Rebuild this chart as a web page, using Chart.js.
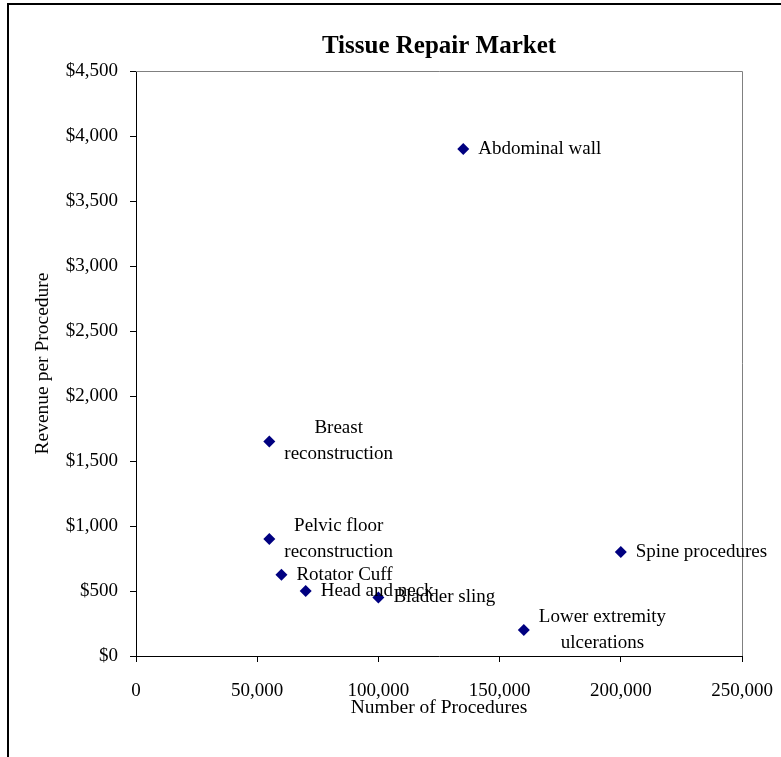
<!DOCTYPE html>
<html>
<head>
<meta charset="utf-8">
<script src="https://cdn.jsdelivr.net/npm/chart.js@4"></script>
<style>
  body { margin: 0; background: #fff; }
  canvas { display: block; }
</style>
</head>
<body>
<canvas id="chart" width="781" height="757"></canvas>
<script>
// data
const procedureNames = [
  "Abdominal wall",
  ["Breast", "reconstruction"],
  ["Pelvic floor", "reconstruction"],
  "Rotator Cuff",
  "Head and neck",
  "Bladder sling",
  ["Lower extremity", "ulcerations"],
  "Spine procedures"
];
const procedureCounts = [135000, 55000, 55000, 60000, 70000, 100000, 160000, 200000];
const revenuePerProcedure = [3900, 1650, 900, 625, 500, 450, 200, 800];

const xTicks = [0, 50000, 100000, 150000, 200000, 250000];
const yTicks = [0, 500, 1000, 1500, 2000, 2500, 3000, 3500, 4000, 4500];

const serif = "'Liberation Serif', 'Times New Roman', serif";

// outer frame + gray top/right border of plot area
const framePlugin = {
  id: 'frame',
  afterLayout(chart) {
    // centre the title over the plot area, like the original
    const t = chart.titleBlock;
    if (t) {
      t.left = chart.chartArea.left;
      t.right = chart.chartArea.right;
    }
  },
  beforeDraw(chart) {
    const ctx = chart.ctx;
    ctx.save();
    ctx.fillStyle = '#fff';
    ctx.fillRect(0, 0, chart.width, chart.height);
    ctx.strokeStyle = '#000';
    ctx.lineWidth = 2;
    ctx.beginPath();
    ctx.moveTo(8, chart.height);
    ctx.lineTo(8, 4);
    ctx.lineTo(chart.width, 4);
    ctx.stroke();
    ctx.restore();
  },
  beforeDatasetsDraw(chart) {
    const {ctx, chartArea: a} = chart;
    ctx.save();
    ctx.strokeStyle = '#808080';
    ctx.lineWidth = 1;
    ctx.beginPath();
    ctx.moveTo(a.left, a.top + 0.5);
    ctx.lineTo(a.right + 0.5, a.top + 0.5);
    ctx.lineTo(a.right + 0.5, a.bottom);
    ctx.stroke();
    ctx.restore();
  }
};

// data labels to the right of each point
const labelPlugin = {
  id: 'pointLabels',
  afterDatasetsDraw(chart) {
    const ctx = chart.ctx;
    const meta = chart.getDatasetMeta(0);
    ctx.save();
    ctx.font = '19px ' + serif;
    ctx.fillStyle = '#000';
    ctx.textAlign = 'center';
    ctx.textBaseline = 'middle';
    meta.data.forEach((pt, i) => {
      const name = procedureNames[i];
      const lines = Array.isArray(name) ? name : [name];
      const w = Math.max(...lines.map(l => ctx.measureText(l).width));
      const cx = pt.x + 15 + w / 2;
      lines.forEach((l, j) => {
        ctx.fillText(l, cx, pt.y + (j - (lines.length - 1) / 2) * 26);
      });
    });
    ctx.restore();
  }
};

new Chart(document.getElementById('chart'), {
  type: 'scatter',
  data: {
    datasets: [{
      data: procedureCounts.map((x, i) => ({x: x, y: revenuePerProcedure[i]})),
      pointStyle: 'rectRot',
      pointRadius: 6,
      backgroundColor: '#000080',
      borderColor: '#000080',
      borderWidth: 0
    }]
  },
  options: {
    responsive: false,
    animation: false,
    devicePixelRatio: 1,
    layout: { padding: { left: 10, right: 39, top: 0, bottom: 0 } },
    plugins: {
      legend: { display: false },
      tooltip: { enabled: false },
      title: {
        display: true,
        text: 'Tissue Repair Market',
        color: '#000',
        font: { family: serif, size: 25, weight: 'bold' },
        padding: { top: 32, bottom: 9 }
      }
    },
    scales: {
      x: {
        type: 'linear',
        min: 0,
        max: 250000,
        afterBuildTicks: s => { s.ticks = xTicks.map(v => ({value: v})); },
        afterFit: s => { s.height = 101; s.paddingRight = 0; s.paddingLeft = 0; },
        ticks: {
          color: '#000',
          font: { family: serif, size: 19 },
          padding: 18,
          maxRotation: 0,
          callback: v => v.toLocaleString('en-US')
        },
        grid: { drawOnChartArea: false, drawTicks: true, tickLength: 6, color: '#000' },
        border: { display: true, color: '#000', width: 1 },
        title: {
          display: true,
          text: 'Number of Procedures',
          color: '#000',
          font: { family: serif, size: 19.5 },
          padding: { top: 0, bottom: 37 }
        }
      },
      y: {
        type: 'linear',
        min: 0,
        max: 4500,
        afterBuildTicks: s => { s.ticks = yTicks.map(v => ({value: v})); },
        afterFit: s => { s.width = 126; },
        ticks: {
          color: '#000',
          font: { family: serif, size: 19 },
          padding: 12,
          callback: v => '$' + v.toLocaleString('en-US')
        },
        grid: { drawOnChartArea: false, drawTicks: true, tickLength: 6, color: '#000' },
        border: { display: true, color: '#000', width: 1 },
        title: {
          display: true,
          text: 'Revenue per Procedure',
          color: '#000',
          font: { family: serif, size: 19.5 },
          padding: { top: 21, bottom: 0 }
        }
      }
    }
  },
  plugins: [framePlugin, labelPlugin]
});
</script>
</body>
</html>
